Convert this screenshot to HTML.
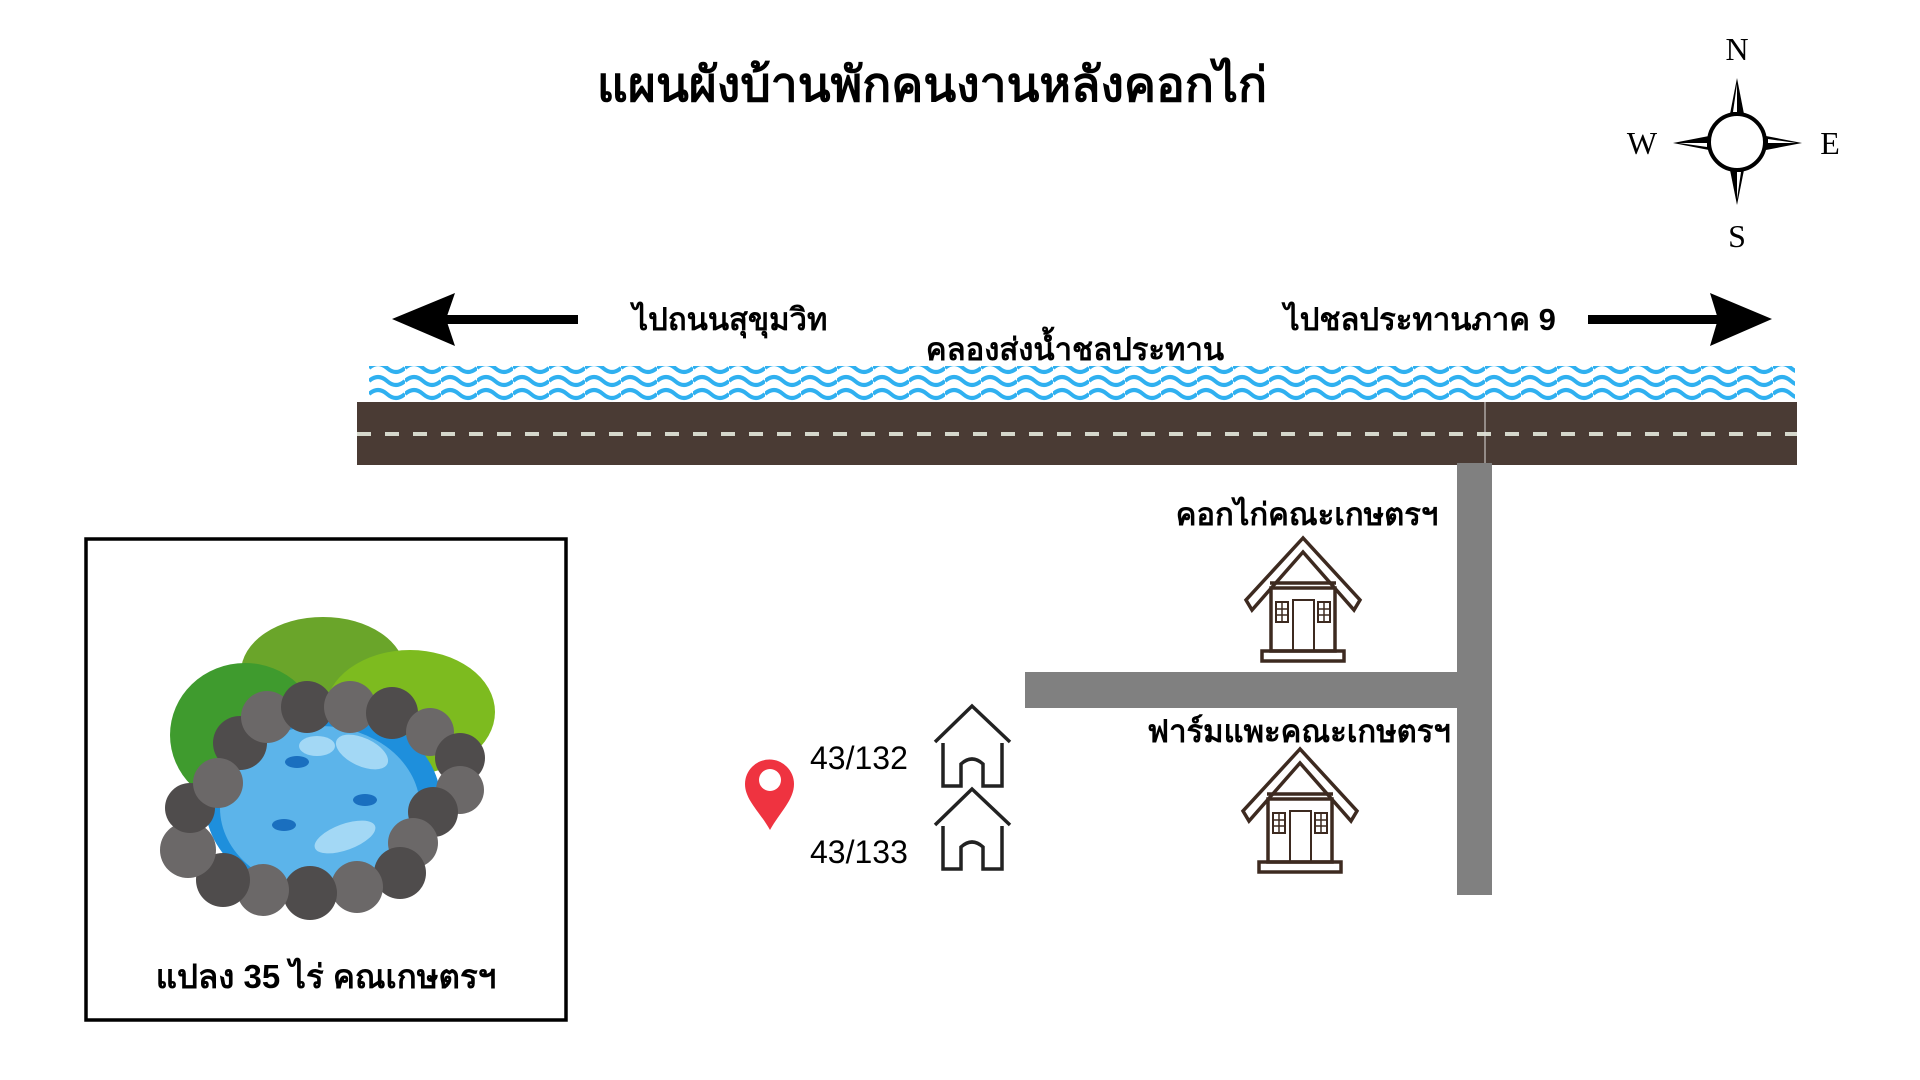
<!DOCTYPE html>
<html><head><meta charset="utf-8"><style>
html,body{margin:0;padding:0;background:#fff;width:1920px;height:1080px;overflow:hidden}
svg{display:block}
text{font-family:"Liberation Sans",sans-serif}
text.serif{font-family:"Liberation Serif",serif}
</style></head><body>
<svg width="1920" height="1080" viewBox="0 0 1920 1080" xmlns="http://www.w3.org/2000/svg">
<defs>
<pattern id="wv" x="369" y="0" width="36" height="60" patternUnits="userSpaceOnUse">
<path d="M0 8 Q9 0 18 8 T36 8 M0 21 Q9 13 18 21 T36 21 M0 34 Q9 26 18 34 T36 34" fill="none" stroke="#2fb0f0" stroke-width="4"/>
</pattern>
</defs>
<text x="932" y="101" text-anchor="middle" font-size="48" font-weight="bold" fill="#000">แผนผังบ้านพักคนงานหลังคอกไก่</text>

<!-- compass -->
<g fill="#000">
<polygon points="1737,78 1730,114 1744,114"/>
<polygon points="1737,205 1730,170 1744,170"/>
<polygon points="1673,143 1709,136 1709,150"/>
<polygon points="1802,143 1766,136 1766,150"/>
</g>
<g fill="#fff">
<polygon points="1737,84 1733,112 1737,112"/>
<polygon points="1737,199 1741,172 1737,172"/>
<polygon points="1679,143 1707,147 1707,143"/>
<polygon points="1796,143 1768,139 1768,143"/>
</g>
<circle cx="1737" cy="142" r="28" fill="#fff" stroke="#000" stroke-width="4"/>
<g font-size="32" text-anchor="middle" fill="#000">
<text class="serif" x="1737" y="60">N</text><text class="serif" x="1642" y="154">W</text><text class="serif" x="1830" y="154">E</text><text class="serif" x="1737" y="247">S</text>
</g>

<!-- arrows -->
<rect x="440" y="315" width="138" height="9" fill="#000"/>
<polygon points="392,319 455,293 446,319 455,346" fill="#000"/>
<rect x="1588" y="315" width="130" height="9" fill="#000"/>
<polygon points="1772,319 1710,293 1718,319 1710,346" fill="#000"/>
<g font-size="31" text-anchor="middle" fill="#000" font-weight="600">
<text x="730" y="330">ไปถนนสุขุมวิท</text>
<text x="1420" y="330">ไปชลประทานภาค 9</text>
<text x="1075" y="360">คลองส่งน้ำชลประทาน</text>
</g>

<!-- waves -->
<rect x="369" y="366" width="1426" height="42" fill="url(#wv)"/>
<!-- road -->
<rect x="357" y="402" width="1440" height="63" fill="#4a3b34"/>
<line x1="357" y1="434" x2="1797" y2="434" stroke="#d6d8cc" stroke-width="4" stroke-dasharray="14,14"/>
<line x1="1485" y1="402" x2="1485" y2="465" stroke="#ddd" stroke-width="1"/>
<!-- side roads -->
<rect x="1457" y="463" width="35" height="432" fill="#808080"/>
<rect x="1025" y="672" width="434" height="36" fill="#808080"/>

<!-- labels -->
<g font-size="31" text-anchor="middle" fill="#000" font-weight="bold">
<text x="1307" y="525">คอกไก่คณะเกษตรฯ</text>
<text x="1299" y="742">ฟาร์มแพะคณะเกษตรฯ</text>
</g>

<!-- houses -->
<g id="h1" fill="none" stroke="#3d2a20" stroke-width="3.5">
<polygon points="1303,538 1246,600 1252,610 1303,552 1354,610 1360,600" fill="#fff"/>
<line x1="1270" y1="583" x2="1336" y2="583"/>
<rect x="1271" y="588" width="64" height="63"/>
<rect x="1293" y="600" width="21" height="51" stroke-width="2"/>
<rect x="1276" y="602" width="12" height="20" stroke-width="2"/>
<line x1="1276" y1="609" x2="1288" y2="609" stroke-width="1.5"/><line x1="1276" y1="615" x2="1288" y2="615" stroke-width="1.5"/><line x1="1282" y1="602" x2="1282" y2="622" stroke-width="1.5"/>
<rect x="1318" y="602" width="12" height="20" stroke-width="2"/>
<line x1="1318" y1="609" x2="1330" y2="609" stroke-width="1.5"/><line x1="1318" y1="615" x2="1330" y2="615" stroke-width="1.5"/><line x1="1324" y1="602" x2="1324" y2="622" stroke-width="1.5"/>
<rect x="1262" y="651" width="82" height="10"/>
</g>
<use href="#h1" x="-3" y="211"/>

<!-- small houses -->
<g fill="none" stroke="#222" stroke-width="3.5">
<polyline points="935,742 972,706 1010,742"/>
<path d="M943 743 V786 H961 V764 Q972 754 983 764 V786 H1002 V743"/>
<polyline points="935,825 972,789 1010,825"/>
<path d="M943 826 V869 H961 V847 Q972 837 983 847 V869 H1002 V826"/>
</g>
<g font-size="32" fill="#000">
<text x="810" y="769">43/132</text>
<text x="810" y="863">43/133</text>
</g>
<!-- pin -->
<path d="M770 830 C760 812 745 800 745 784 A24 24 0 0 1 794 784 C794 800 780 812 770 830 Z" fill="#ef3340"/>
<circle cx="770" cy="780" r="11" fill="#fff"/>

<!-- pond box -->
<rect x="86" y="539" width="480" height="481" fill="none" stroke="#000" stroke-width="3.5"/>
<g>
<ellipse cx="323" cy="672" rx="82" ry="55" fill="#6aa52a"/>
<ellipse cx="410" cy="712" rx="85" ry="62" fill="#7dbb1f"/>
<ellipse cx="245" cy="735" rx="75" ry="72" fill="#3f9b2e"/>
<ellipse cx="323" cy="803" rx="118" ry="95" fill="#1e8fdc"/>
<ellipse cx="320" cy="808" rx="100" ry="82" fill="#5cb4ea"/>
<ellipse cx="362" cy="752" rx="28" ry="14" fill="#a3d8f5" transform="rotate(25 362 752)"/>
<ellipse cx="317" cy="746" rx="18" ry="10" fill="#a3d8f5"/>
<ellipse cx="345" cy="837" rx="32" ry="13" fill="#a3d8f5" transform="rotate(-20 345 837)"/>
<g fill="#1a6fbf">
<ellipse cx="297" cy="762" rx="12" ry="6"/><ellipse cx="365" cy="800" rx="12" ry="6"/><ellipse cx="284" cy="825" rx="12" ry="6"/>
</g>
<g>
<circle cx="240" cy="743" r="27" fill="#4f4c4c"/>
<circle cx="267" cy="717" r="26" fill="#6b6868"/>
<circle cx="307" cy="707" r="26" fill="#4f4c4c"/>
<circle cx="350" cy="707" r="26" fill="#6b6868"/>
<circle cx="392" cy="713" r="26" fill="#4f4c4c"/>
<circle cx="430" cy="732" r="24" fill="#6b6868"/>
<circle cx="460" cy="758" r="25" fill="#4f4c4c"/>
<circle cx="460" cy="790" r="24" fill="#6b6868"/>
<circle cx="433" cy="812" r="25" fill="#4f4c4c"/>
<circle cx="413" cy="843" r="25" fill="#6b6868"/>
<circle cx="400" cy="873" r="26" fill="#4f4c4c"/>
<circle cx="357" cy="887" r="26" fill="#6b6868"/>
<circle cx="310" cy="893" r="27" fill="#4f4c4c"/>
<circle cx="263" cy="890" r="26" fill="#6b6868"/>
<circle cx="223" cy="880" r="27" fill="#4f4c4c"/>
<circle cx="188" cy="850" r="28" fill="#6b6868"/>
<circle cx="190" cy="808" r="25" fill="#4f4c4c"/>
<circle cx="218" cy="783" r="25" fill="#6b6868"/>
</g>
</g>
<text x="326" y="988" text-anchor="middle" font-size="33" font-weight="600" fill="#000">แปลง 35 ไร่ คณเกษตรฯ</text>
</svg>
</body></html>
